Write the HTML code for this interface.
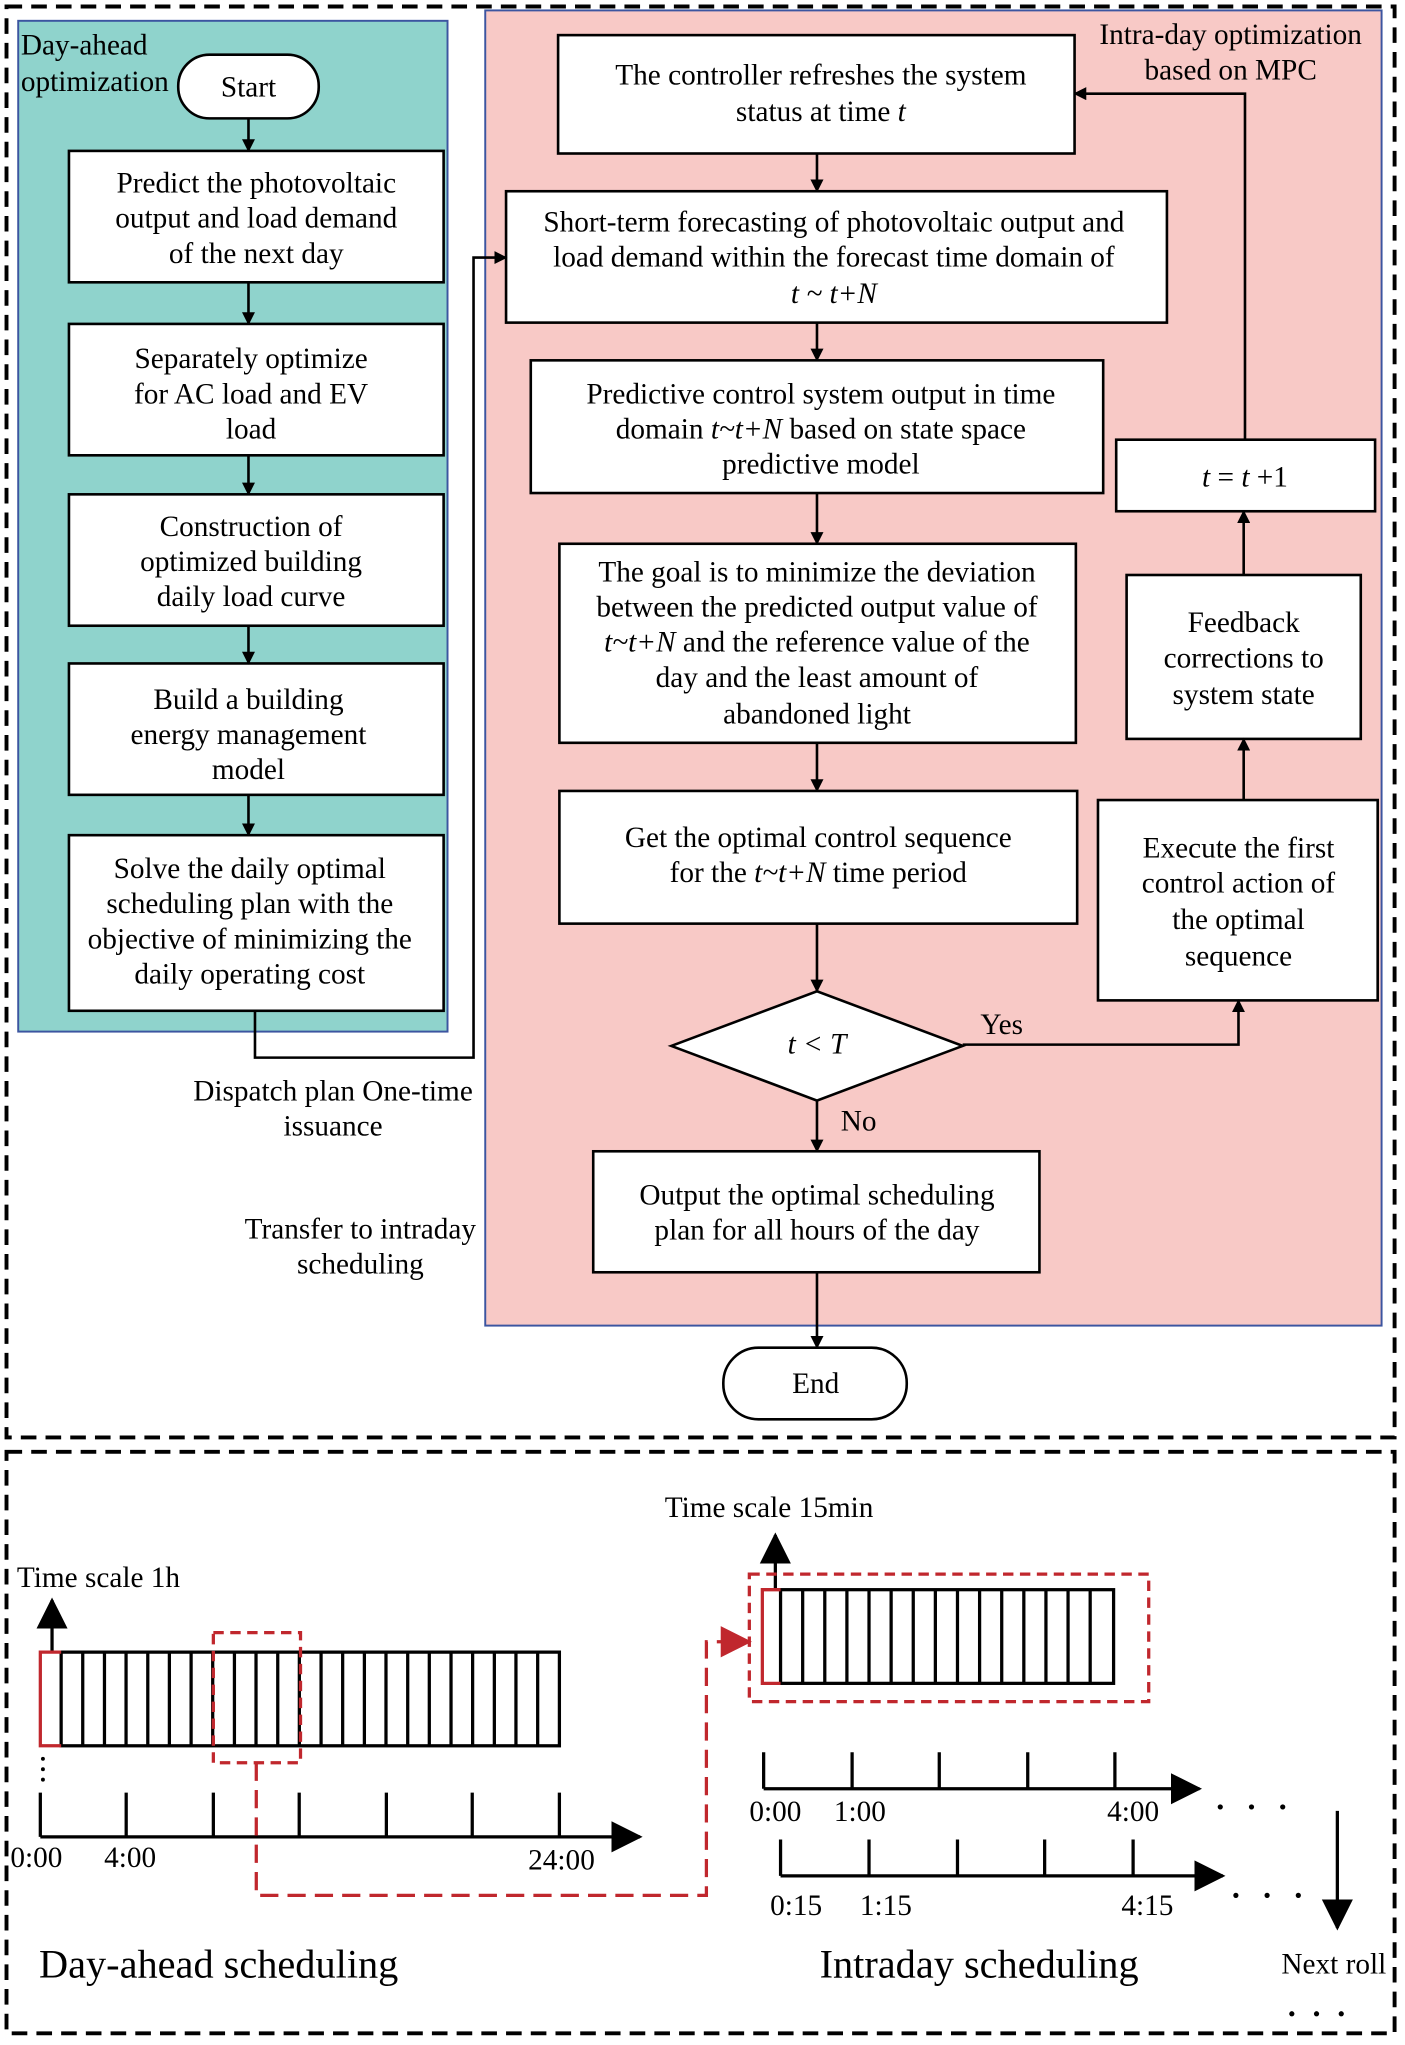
<!DOCTYPE html>
<html><head><meta charset="utf-8"><style>body{margin:0;background:#fff}svg{display:block}text{font-family:"Liberation Serif",serif;fill:#000}</style></head><body>
<svg width="1405" height="2045" viewBox="0 0 1080 1572" preserveAspectRatio="none" xmlns="http://www.w3.org/2000/svg">
<defs>
<marker id="a" markerWidth="10" markerHeight="10" refX="9" refY="5" orient="auto" markerUnits="userSpaceOnUse"><path d="M0,0 L10,5 L0,10 z" fill="#000"/></marker>
<marker id="b" markerWidth="24" markerHeight="24" refX="22" refY="12" orient="auto" markerUnits="userSpaceOnUse"><path d="M0,0 L24,12 L0,24 z" fill="#000"/></marker>
<marker id="r" markerWidth="24" markerHeight="24" refX="22" refY="12" orient="auto" markerUnits="userSpaceOnUse"><path d="M0,0 L24,12 L0,24 z" fill="#c0272d"/></marker>
</defs>
<g fill="none" stroke="#000" stroke-width="3" stroke-dasharray="12,7">
<rect x="5" y="5" width="1067" height="1100"/>
<rect x="5" y="1116" width="1067" height="447"/>
</g>
<rect x="14" y="16" width="330" height="777" fill="#8fd3cc" stroke="#3c55a0" stroke-width="1.5"/>
<rect x="373" y="8" width="689" height="1011" fill="#f8c9c6" stroke="#3c55a0" stroke-width="1.5"/>
<g fill="#fff" stroke="#000" stroke-width="2">
<rect x="137" y="42" width="108" height="49" rx="24"/>
<rect x="53" y="116" width="288" height="101"/>
<rect x="53" y="249" width="288" height="101"/>
<rect x="53" y="380" width="288" height="101"/>
<rect x="53" y="510" width="288" height="101"/>
<rect x="53" y="642" width="288" height="135"/>
<rect x="429" y="27" width="397" height="91"/>
<rect x="389" y="147" width="508" height="101"/>
<rect x="408" y="277" width="440" height="102"/>
<rect x="430" y="418" width="397" height="153"/>
<rect x="430" y="608" width="398" height="102"/>
<polygon points="516,804 628,762 740,804 628,846"/>
<rect x="456" y="885" width="343" height="93"/>
<rect x="556" y="1036" width="141" height="55" rx="27"/>
<rect x="858" y="338" width="199" height="55"/>
<rect x="866" y="442" width="180" height="126"/>
<rect x="844" y="615" width="215" height="154"/>
</g>
<g stroke="#000" stroke-width="2" fill="none" marker-end="url(#a)">
<line x1="191" y1="91" x2="191" y2="116"/>
<line x1="191" y1="217" x2="191" y2="249"/>
<line x1="191" y1="350" x2="191" y2="380"/>
<line x1="191" y1="481" x2="191" y2="510"/>
<line x1="191" y1="611" x2="191" y2="642"/>
<polyline points="196,777 196,813 364,813 364,198 389,198"/>
<line x1="628" y1="118" x2="628" y2="147"/>
<line x1="628" y1="248" x2="628" y2="277"/>
<line x1="628" y1="379" x2="628" y2="418"/>
<line x1="628" y1="571" x2="628" y2="608"/>
<line x1="628" y1="710" x2="628" y2="762"/>
<line x1="628" y1="846" x2="628" y2="885"/>
<line x1="628" y1="978" x2="628" y2="1036"/>
<polyline points="740,803 952,803 952,769"/>
<line x1="956" y1="615" x2="956" y2="568"/>
<line x1="956" y1="442" x2="956" y2="393"/>
<polyline points="957,338 957,72 826,72"/>
</g>
<g font-size="22.5" text-anchor="middle">
<text x="16" y="42" text-anchor="start">Day-ahead</text>
<text x="16" y="70" text-anchor="start">optimization</text>
<text x="191" y="74">Start</text>
<text x="197" y="148">Predict the photovoltaic</text><text x="197" y="175">output and load demand</text><text x="197" y="202">of the next day</text>
<text x="193" y="283">Separately optimize</text><text x="193" y="310">for AC load and EV</text><text x="193" y="337">load</text>
<text x="193" y="412">Construction of</text><text x="193" y="439">optimized building</text><text x="193" y="466">daily load curve</text>
<text x="191" y="545">Build a building</text><text x="191" y="572">energy management</text><text x="191" y="599">model</text>
<text x="192" y="675">Solve the daily optimal</text><text x="192" y="702">scheduling plan with the</text><text x="192" y="729">objective of minimizing the</text><text x="192" y="756">daily operating cost</text>
<text x="946" y="34">Intra-day optimization</text><text x="946" y="61">based on MPC</text>
<text x="631" y="65">The controller refreshes the system</text><text x="631" y="93">status at time <tspan font-style="italic">t</tspan></text>
<text x="641" y="178">Short-term forecasting of photovoltaic output and</text><text x="641" y="205">load demand within the forecast time domain of</text><text x="641" y="233" font-style="italic">t ~ t+N</text>
<text x="631" y="310">Predictive control system output in time</text><text x="631" y="337">domain <tspan font-style="italic">t~t+N</tspan> based on state space</text><text x="631" y="364">predictive model</text>
<text x="628" y="447">The goal is to minimize the deviation</text><text x="628" y="474">between the predicted output value of</text><text x="628" y="501"><tspan font-style="italic">t~t+N</tspan> and the reference value of the</text><text x="628" y="528">day and the least amount of</text><text x="628" y="556">abandoned light</text>
<text x="629" y="651">Get the optimal control sequence</text><text x="629" y="678">for the <tspan font-style="italic">t~t+N</tspan> time period</text>
<text x="628" y="810" font-style="italic">t &lt; T</text>
<text x="770" y="795">Yes</text>
<text x="660" y="869">No</text>
<text x="628" y="926">Output the optimal scheduling</text><text x="628" y="953">plan for all hours of the day</text>
<text x="627" y="1071">End</text>
<text x="957" y="374"><tspan font-style="italic">t</tspan> = <tspan font-style="italic">t</tspan> +1</text>
<text x="956" y="486">Feedback</text><text x="956" y="513">corrections to</text><text x="956" y="541">system state</text>
<text x="952" y="659">Execute the first</text><text x="952" y="686">control action of</text><text x="952" y="714">the optimal</text><text x="952" y="742">sequence</text>
<text x="256" y="846">Dispatch plan One-time</text><text x="256" y="873">issuance</text>
<text x="277" y="952">Transfer to intraday</text><text x="277" y="979">scheduling</text>
<text x="13" y="1220" text-anchor="start">Time scale 1h</text>
<text x="511" y="1166" text-anchor="start">Time scale 15min</text>
<text x="8" y="1435" text-anchor="start">0:00</text><text x="80" y="1435" text-anchor="start">4:00</text><text x="406" y="1437" text-anchor="start">24:00</text>
<text x="576" y="1400" text-anchor="start">0:00</text><text x="641" y="1400" text-anchor="start">1:00</text><text x="851" y="1400" text-anchor="start">4:00</text>
<text x="592" y="1472" text-anchor="start">0:15</text><text x="661" y="1472" text-anchor="start">1:15</text><text x="862" y="1472" text-anchor="start">4:15</text>
<text x="985" y="1517" text-anchor="start">Next roll</text>
<text x="30" y="1520" font-size="31" text-anchor="start">Day-ahead scheduling</text>
<text x="630" y="1520" font-size="31" text-anchor="start">Intraday scheduling</text>
</g>
<g stroke="#000" stroke-width="2.5" fill="none">
<rect x="47" y="1270" width="383" height="72"/>
<path d="M63.6,1270V1342M80.3,1270V1342M96.9,1270V1342M113.6,1270V1342M130.2,1270V1342M146.9,1270V1342M163.5,1270V1342M180.2,1270V1342M196.8,1270V1342M213.5,1270V1342M230.1,1270V1342M246.8,1270V1342M263.4,1270V1342M280.1,1270V1342M296.7,1270V1342M313.4,1270V1342M330,1270V1342M346.7,1270V1342M363.3,1270V1342M380,1270V1342M396.6,1270V1342M413.3,1270V1342"/>
<path d="M31,1378V1412M97,1378V1412M164,1378V1412M230,1378V1412M297,1378V1412M363,1378V1412M430,1378V1412"/>
<line x1="31" y1="1412" x2="492" y2="1412" marker-end="url(#b)"/>
<line x1="40" y1="1270" x2="40" y2="1230" marker-end="url(#b)"/>
<rect x="600" y="1222" width="256" height="72"/>
<path d="M617,1222V1294M634,1222V1294M651,1222V1294M668,1222V1294M685,1222V1294M702,1222V1294M719,1222V1294M736,1222V1294M753,1222V1294M770,1222V1294M787,1222V1294M804,1222V1294M821,1222V1294M838,1222V1294"/>
<line x1="596" y1="1222" x2="596" y2="1180" marker-end="url(#b)"/>
<path d="M587,1347V1375M655,1347V1375M722,1347V1375M790,1347V1375M857,1347V1375"/>
<line x1="587" y1="1375" x2="922" y2="1375" marker-end="url(#b)"/>
<path d="M600,1414V1442M668,1414V1442M736,1414V1442M803,1414V1442M871,1414V1442"/>
<line x1="600" y1="1442" x2="940" y2="1442" marker-end="url(#b)"/>
<line x1="1028" y1="1392" x2="1028" y2="1482" marker-end="url(#b)"/>
</g>
<g stroke="#c0272d" stroke-width="2.5" fill="none">
<path d="M47,1270H31V1342H47"/>
<path d="M600,1222H586V1294H600"/>
<g stroke-dasharray="8,5"><rect x="164" y="1255" width="67" height="100"/><rect x="576" y="1210" width="307" height="98"/></g>
<polyline points="197,1355 197,1457 543,1457 543,1262 576,1262" stroke-dasharray="14,7" marker-end="url(#r)"/>
</g>
<g fill="#000">
<circle cx="33" cy="1352" r="1.5"/><circle cx="33" cy="1360" r="1.5"/><circle cx="33" cy="1368" r="1.5"/>
<circle cx="938" cy="1389" r="2"/><circle cx="962" cy="1389" r="2"/><circle cx="986" cy="1389" r="2"/>
<circle cx="950" cy="1457" r="2"/><circle cx="974" cy="1457" r="2"/><circle cx="998" cy="1457" r="2"/>
<circle cx="993" cy="1548" r="2"/><circle cx="1012" cy="1548" r="2"/><circle cx="1031" cy="1548" r="2"/>
</g>
</svg>
</body></html>
